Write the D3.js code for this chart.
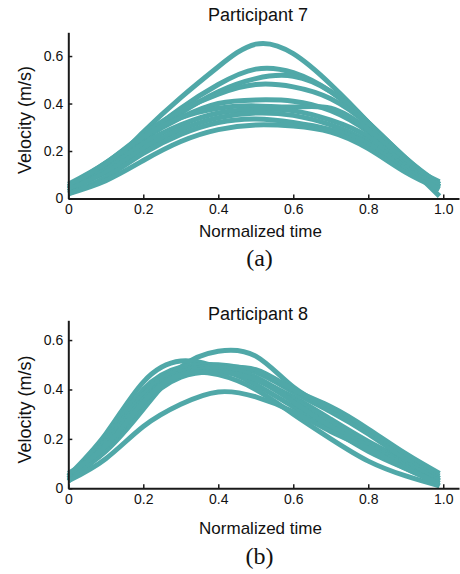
<!DOCTYPE html>
<html>
<head>
<meta charset="utf-8">
<script src="https://cdn.jsdelivr.net/npm/d3@7"></script>
<style>
  body { margin: 0; background: #fff; }
  text { font-family: "Liberation Sans", Arial, sans-serif; fill: #111; }
  .axis path, .axis line { stroke: #1a1a1a; }
  .axis text { font-size: 14px; }
</style>
</head>
<body>
<svg id="chart" width="460" height="574"></svg>
<script>
const times = [0, 0.1, 0.2, 0.3, 0.4, 0.5, 0.6, 0.7, 0.8, 0.9, 0.99];

// participant 7 trials (velocity in m/s at each normalized time)
const p7Trials = [
  [0.03, 0.13, 0.28, 0.425, 0.555, 0.65, 0.61, 0.48, 0.32, 0.15, 0.01],
  [0.05, 0.14, 0.26, 0.38, 0.48, 0.545, 0.53, 0.45, 0.32, 0.17, 0.05],
  [0.04, 0.13, 0.25, 0.36, 0.45, 0.505, 0.515, 0.45, 0.32, 0.17, 0.06],
  [0.06, 0.15, 0.27, 0.37, 0.44, 0.48, 0.47, 0.42, 0.31, 0.16, 0.05],
  [0.04, 0.14, 0.25, 0.34, 0.40, 0.415, 0.41, 0.37, 0.28, 0.15, 0.07],
  [0.05, 0.15, 0.26, 0.34, 0.38, 0.39, 0.385, 0.38, 0.29, 0.16, 0.06],
  [0.03, 0.12, 0.23, 0.31, 0.36, 0.375, 0.37, 0.33, 0.26, 0.14, 0.05],
  [0.04, 0.11, 0.21, 0.29, 0.34, 0.36, 0.35, 0.31, 0.24, 0.13, 0.04],
  [0.02, 0.09, 0.19, 0.27, 0.32, 0.335, 0.32, 0.29, 0.23, 0.12, 0.06],
  [0.02, 0.075, 0.16, 0.24, 0.29, 0.31, 0.305, 0.28, 0.21, 0.11, 0.04]
];

// participant 8 trials
const p8Trials = [
  [0.04, 0.15, 0.32, 0.49, 0.555, 0.535, 0.41, 0.32, 0.23, 0.13, 0.04],
  [0.05, 0.22, 0.43, 0.515, 0.49, 0.44, 0.37, 0.28, 0.19, 0.11, 0.03],
  [0.04, 0.20, 0.40, 0.49, 0.50, 0.47, 0.39, 0.31, 0.22, 0.12, 0.05],
  [0.05, 0.19, 0.38, 0.48, 0.49, 0.48, 0.40, 0.33, 0.24, 0.14, 0.06],
  [0.03, 0.17, 0.36, 0.47, 0.49, 0.45, 0.36, 0.27, 0.18, 0.10, 0.03],
  [0.04, 0.18, 0.36, 0.46, 0.48, 0.42, 0.33, 0.24, 0.15, 0.08, 0.02],
  [0.03, 0.16, 0.34, 0.45, 0.47, 0.44, 0.35, 0.25, 0.17, 0.09, 0.01],
  [0.06, 0.17, 0.35, 0.46, 0.46, 0.40, 0.30, 0.20, 0.11, 0.05, 0.01],
  [0.03, 0.12, 0.25, 0.34, 0.39, 0.37, 0.31, 0.23, 0.16, 0.08, 0.02]
];

const xTicks = [0, 0.2, 0.4, 0.6, 0.8, 1.0];
const yTicks = [0, 0.2, 0.4, 0.6];
const xTickLabels = ["0", "0.2", "0.4", "0.6", "0.8", "1.0"];
const yTickLabels = ["0", "0.2", "0.4", "0.6"];

const panels = [
  { title: "Participant 7", tag: "(a)", trials: p7Trials, yMax: 0.7,
    bottom: 198.5, top: 32.3, titleY: 20.5, xLabelY: 237.3, tagY: 266, yLabelMid: 120 },
  { title: "Participant 8", tag: "(b)", trials: p8Trials, yMax: 0.68,
    bottom: 488.3, top: 320.3, titleY: 319.5, xLabelY: 533.7, tagY: 563.5, yLabelMid: 409.5 }
];

const lineColor = "#50a8a8";
const svg = d3.select("#chart");

const x = d3.scaleLinear().domain([0, 1.042]).range([68.3, 459]);

panels.forEach(p => {
  const y = d3.scaleLinear().domain([0, p.yMax]).range([p.bottom, p.top]);
  const g = svg.append("g");

  const line = d3.line()
    .x((d, i) => x(times[i]))
    .y(d => y(d))
    .curve(d3.curveNatural);

  g.selectAll("path.trial")
    .data(p.trials)
    .join("path")
    .attr("class", "trial")
    .attr("d", line)
    .attr("fill", "none")
    .attr("stroke", lineColor)
    .attr("stroke-width", 5);

  // axes with inward ticks
  g.append("g")
    .attr("class", "axis")
    .attr("transform", `translate(0,${p.bottom})`)
    .call(d3.axisBottom(x).tickValues(xTicks)
      .tickFormat((d, i) => xTickLabels[i])
      .tickSizeInner(-4).tickSizeOuter(0).tickPadding(6));

  g.append("g")
    .attr("class", "axis")
    .attr("transform", `translate(${x(0)},0)`)
    .call(d3.axisLeft(y).tickValues(yTicks)
      .tickFormat((d, i) => yTickLabels[i])
      .tickSizeInner(-4).tickSizeOuter(0).tickPadding(5));

  g.selectAll(".axis path").attr("stroke-width", 2);
  g.selectAll(".axis line").attr("stroke-width", 1.5);
  g.selectAll(".axis text").attr("fill", "#111");

  g.append("text")
    .attr("x", 258)
    .attr("y", p.titleY)
    .attr("text-anchor", "middle")
    .style("font-size", "18px")
    .text(p.title);

  g.append("text")
    .attr("x", 260.5)
    .attr("y", p.xLabelY)
    .attr("text-anchor", "middle")
    .style("font-size", "17px")
    .text("Normalized time");

  g.append("text")
    .attr("transform", `translate(31,${p.yLabelMid}) rotate(-90)`)
    .attr("text-anchor", "middle")
    .style("font-size", "18px")
    .text("Velocity (m/s)");

  g.append("text")
    .attr("x", 259.5)
    .attr("y", p.tagY)
    .attr("text-anchor", "middle")
    .style("font-family", "'Liberation Serif', 'Times New Roman', serif")
    .style("font-size", "24px")
    .text(p.tag);
});
</script>
</body>
</html>
